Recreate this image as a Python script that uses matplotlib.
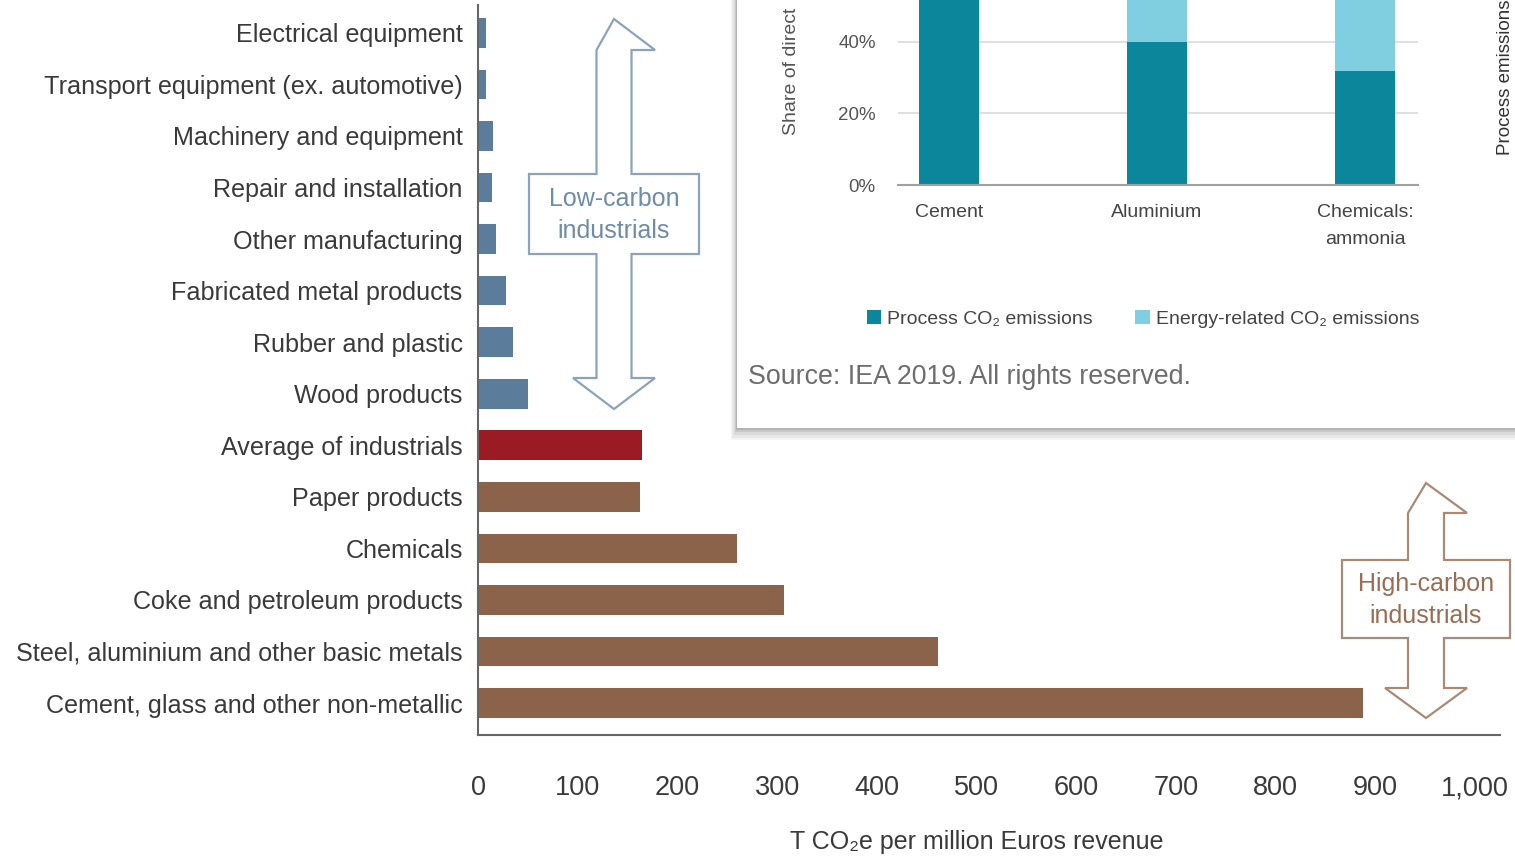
import numpy as np
import matplotlib
matplotlib.use('Agg')
import matplotlib.pyplot as plt
from matplotlib.patches import Polygon, Rectangle

plt.rcParams['font.family'] = ['Liberation Sans', 'DejaVu Sans']

# main chart data
sectors = ['Electrical equipment', 'Transport equipment (ex. automotive)', 'Machinery and equipment',
           'Repair and installation', 'Other manufacturing', 'Fabricated metal products',
           'Rubber and plastic', 'Wood products', 'Average of industrials', 'Paper products',
           'Chemicals', 'Coke and petroleum products', 'Steel, aluminium and other basic metals',
           'Cement, glass and other non-metallic']
intensity = [8.5, 8, 15, 14.5, 18, 28.5, 35, 50, 164, 162, 260, 307, 461, 888]
group = ['low'] * 8 + ['avg'] + ['high'] * 5
xticks = [0, 100, 200, 300, 400, 500, 600, 700, 800, 900, 1000]

# inset chart data
inset_cats = ['Cement', 'Aluminium', 'Chemicals:\nammonia']
process_share = [100, 40, 32]
energy_share = [0, 60, 68]
inset_yticks = [0, 20, 40]

colors = {'low': '#5b7d9b', 'avg': '#9b1b25', 'high': '#8b634a'}
W, H = 1515, 863


def fx(x):
    return x / W


def fy(y):
    return 1 - y / H


fig = plt.figure(figsize=(W / 100, H / 100), dpi=100)

# ---- main bar chart
ax = fig.add_axes([fx(478), fy(735), fx(1500 - 478), (735 - 5) / H])
pos = np.arange(len(sectors))
ax.barh(pos, intensity, height=0.575, color=[colors[g] for g in group])
ax.set_ylim(13.62, -0.54)
ax.set_xlim(0, 1025)
ax.set_yticks(pos)
ax.set_yticklabels(sectors, fontsize=18.1, color='#3a3a3a')
ax.set_xticks(xticks)
ax.set_xticklabels(['{:,}'.format(t) for t in xticks], fontsize=19.5, color='#3a3a3a')
ax.tick_params(axis='y', length=0, pad=11)
ax.tick_params(axis='x', length=0, pad=29)
for s in ['top', 'right']:
    ax.spines[s].set_visible(False)
for s in ['left', 'bottom']:
    ax.spines[s].set_color('#666666')
    ax.spines[s].set_linewidth(1.5)
fig.text(fx(977), fy(842), 'T CO\u2082e per million Euros revenue', fontsize=18,
         color='#3a3a3a', ha='center', va='center')


def double_arrow(cx, top, bot, hw, hh, sw, box, ec, text, tc):
    bl, bt, br, bb = box
    pts = [(cx, top), (cx + hw, top + hh), (cx + sw, top + hh), (cx + sw, bt), (br, bt), (br, bb),
           (cx + sw, bb), (cx + sw, bot - hh), (cx + hw, bot - hh), (cx, bot), (cx - hw, bot - hh),
           (cx - sw, bot - hh), (cx - sw, bb), (bl, bb), (bl, bt), (cx - sw, bt), (cx - sw, top + hh)]
    fig.patches.append(Polygon([(fx(x), fy(y)) for x, y in pts], closed=True, fill=True,
                               facecolor='white', edgecolor=ec, lw=1.6,
                               transform=fig.transFigure, zorder=3))
    fig.text(fx((bl + br) / 2), fy((bt + bb) / 2 + 1), text, fontsize=18, color=tc,
             ha='center', va='center', linespacing=1.38, zorder=4)


double_arrow(614, 19, 409, 41, 31, 17.5, (529, 174, 699, 254), '#8aa4bb',
             'Low-carbon\nindustrials', '#6f8ca8')
double_arrow(1426, 483, 718, 41, 30, 18, (1342, 560, 1510, 638), '#a88a76',
             'High-carbon\nindustrials', '#9a6e54')

# ---- inset panel (screenshot overlay)
for i, a in enumerate([0.04, 0.05, 0.06, 0.08, 0.1]):
    off = 12 - i * 2.5
    fig.patches.append(Rectangle((fx(737 - off * 0.5), fy(428 + off)), fx(800), (428 + off) / H,
                                 transform=fig.transFigure, facecolor='black', edgecolor='none',
                                 alpha=a, zorder=5))
bg = fig.add_axes([fx(737), fy(428), fx(1515 - 737 + 10), 428 / H])
bg.set_zorder(6)
bg.set_facecolor('white')
bg.set_xticks([])
bg.set_yticks([])
for s in bg.spines.values():
    s.set_visible(False)

ax2 = fig.add_axes([fx(898), fy(185), fx(1418 - 898), 357.5 / H])
ax2.set_zorder(7)
ax2.set_facecolor('none')
xi = np.arange(len(inset_cats))
b1 = ax2.bar(xi, process_share, width=0.29, color='#0b869b', label='Process CO\u2082 emissions')
b2 = ax2.bar(xi, energy_share, width=0.29, bottom=process_share, color='#7fcfe0',
             label='Energy-related CO\u2082 emissions')
ax2.set_xlim(-0.245, 2.255)
ax2.set_ylim(0, 100)
ax2.set_yticks(inset_yticks)
ax2.set_yticklabels(['{}%'.format(v) for v in inset_yticks], fontsize=13.5, color='#555555')
ax2.set_xticks(xi)
ax2.set_xticklabels(inset_cats, fontsize=14, color='#444444', linespacing=1.75)
ax2.tick_params(axis='y', length=0, pad=16)
ax2.tick_params(axis='x', length=0, pad=14)
for v in [20, 40, 60, 80, 100]:
    ax2.axhline(v, color='#dddddd', lw=1.3, zorder=0)
for s in ['top', 'right', 'left']:
    ax2.spines[s].set_visible(False)
ax2.spines['bottom'].set_color('#a0a0a0')
ax2.spines['bottom'].set_linewidth(1.5)

leg = ax2.legend(handles=[b1, b2], loc='center', ncol=2, frameon=False, fontsize=14,
                 handlelength=0.75, handleheight=0.75, handletextpad=0.3, columnspacing=2.2,
                 bbox_to_anchor=(fx(1143), fy(319)), bbox_transform=fig.transFigure)
for t in leg.get_texts():
    t.set_color('#444444')

t1 = fig.text(fx(792), fy(135), 'Share of direct', rotation=90, fontsize=14,
              color='#555555', ha='center', va='bottom')
t2 = fig.text(fx(1506), fy(155), 'Process emissions', rotation=90, fontsize=13.5,
              color='#333333', ha='center', va='bottom')
t3 = fig.text(fx(748), fy(377), 'Source: IEA 2019. All rights reserved.', fontsize=19.3,
              color='#6d6d6d', ha='left', va='center')
for t in (t1, t2, t3):
    t.set_zorder(8)

fig.savefig('out.png', dpi=100)
